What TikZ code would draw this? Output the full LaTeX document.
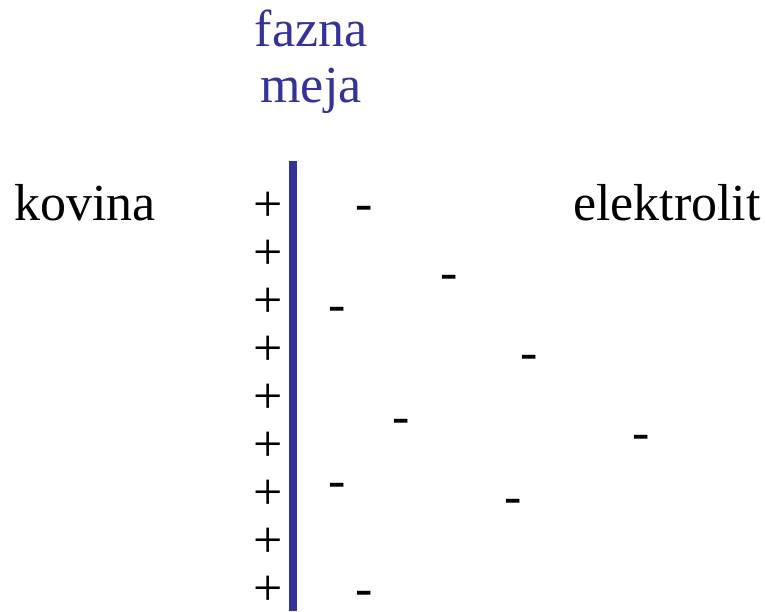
\documentclass[tikz,border=0pt]{standalone}
\usepackage{fontspec}
\setmainfont{Liberation Serif}
\usepackage{xcolor}
\usepackage{tikz}
\usetikzlibrary{positioning}
\definecolor{mejablue}{HTML}{333399}
\tikzset{
    plusnode/.style = {inner sep=0pt, anchor=center},
    minusnode/.style = {inner sep=0pt, anchor=base},
    labnode/.style = {inner sep=0pt, anchor=base},
}

\begin{document}
\begin{tikzpicture}[
	x=1pt, y=-1pt,
	font=\fontsize{52}{56}\selectfont
]
\useasboundingbox (0,0) rectangle (767,611);
% phase boundary
\node[labnode,text=mejablue] at (311,46) (fazna) {fazna};
\node[labnode,text=mejablue] at (311,102) (meja) {meja};
\coordinate (top) at (293,161);
\coordinate (bot) at (293,611);
\draw[mejablue,line width=8pt] (top) -- (bot);
%
\node[labnode,anchor=base west] at (14,220) (kovina) {kovina};
\node[labnode,anchor=base east] at (761,220) (elektrolit) {elektrolit};
% metal side
\node[plusnode] at (268,207) (p1) {+};
\node[plusnode] at (268,255) (p2) {+};
\node[plusnode] at (268,303) (p3) {+};
\node[plusnode] at (268,351) (p4) {+};
\node[plusnode] at (268,399) (p5) {+};
\node[plusnode] at (268,447) (p6) {+};
\node[plusnode] at (268,495) (p7) {+};
\node[plusnode] at (268,543) (p8) {+};
\node[plusnode] at (268,591) (p9) {+};
% electrolyte side
\node[minusnode] at (364,220.5) (m1) {-};
\node[minusnode] at (449,289.5) (m2) {-};
\node[minusnode] at (337,321.5) (m3) {-};
\node[minusnode] at (529,369.5) (m4) {-};
\node[minusnode] at (401,433.5) (m5) {-};
\node[minusnode] at (641,449.5) (m6) {-};
\node[minusnode] at (337,497.5) (m7) {-};
\node[minusnode] at (513,513.5) (m8) {-};
\node[minusnode] at (364,605.5) (m9) {-};
\end{tikzpicture}
\end{document}
